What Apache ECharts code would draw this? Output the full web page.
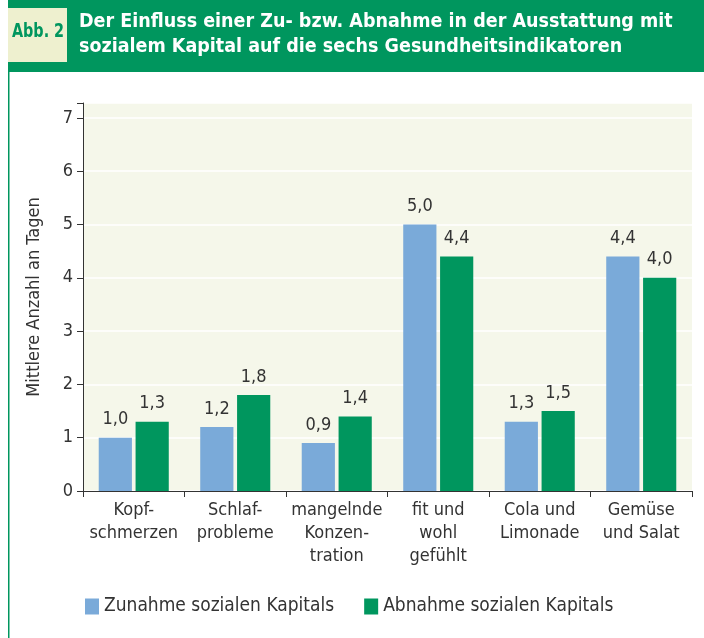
<!DOCTYPE html>
<html>
<head>
<meta charset="utf-8">
<script src="https://cdn.jsdelivr.net/npm/echarts@6/dist/echarts.min.js"></script>
<style>
  html, body { margin: 0; padding: 0; background: #fff; }
  #chart { width: 704px; height: 638px; }
</style>
</head>
<body>
<div id="chart"></div>
<script>
  // Werte aus Abb. 2
  var categories = ['Kopf-\nschmerzen', 'Schlaf-\nprobleme', 'mangelnde\nKonzen-\ntration', 'fit und\nwohl\ngefühlt', 'Cola und\nLimonade', 'Gemüse\nund Salat'];
  var zunahme = [1.0, 1.2, 0.9, 5.0, 1.3, 4.4];
  var abnahme = [1.3, 1.8, 1.4, 4.4, 1.5, 4.0];
  var seriesNames = ['Zunahme sozialen Kapitals', 'Abnahme sozialen Kapitals'];
  var titleLines = ['Der Einfluss einer Zu- bzw. Abnahme in der Ausstattung mit', 'sozialem Kapital auf die sechs Gesundheitsindikatoren'];

  var font = 'DejaVu Sans Condensed';
  var green = '#00965e';
  var blue = '#7aaad9';

  function fmt(p) {
    return p.value.toFixed(1).replace('.', ',');
  }

  var myChart = echarts.init(document.getElementById('chart'));
  myChart.setOption({
    textStyle: { fontFamily: font },
    graphic: [
      { type: 'rect', shape: { x: 8, y: 0, width: 696, height: 72 }, style: { fill: green }, z: 1 },
      { type: 'rect', shape: { x: 8, y: 0, width: 1.5, height: 638 }, style: { fill: green }, z: 1 },
      { type: 'rect', shape: { x: 8, y: 8, width: 59, height: 54 }, style: { fill: '#eef0cf' }, z: 2 },
      // schmalere Schrift im Kasten
      { type: 'text', x: 38, y: 32, scaleX: 0.8, style: { text: 'Abb. 2', fill: green, font: 'bold 20px ' + font, align: 'center', verticalAlign: 'middle' }, z: 3 },
      { type: 'text', x: 79, y: 9, style: { text: titleLines.join('\n'), fill: '#fff', font: 'bold 19.5px ' + font, lineHeight: 25 }, z: 3 }
    ],
    grid: { left: 83, right: 12, top: 103, bottom: 147, show: true, backgroundColor: '#f5f7ea', borderWidth: 0 },
    legend: {
      bottom: 17, left: 80,
      itemWidth: 14, itemHeight: 16, itemGap: 30,
      icon: 'rect',
      textStyle: { fontSize: 19, color: '#333', fontFamily: font },
      data: seriesNames
    },
    xAxis: {
      type: 'category',
      data: categories,
      axisLine: { lineStyle: { color: '#333', width: 1 } },
      axisTick: { show: true, length: 6, lineStyle: { color: '#333' } },
      axisLabel: { color: '#333', fontSize: 18, lineHeight: 23, margin: 8, interval: 0, fontFamily: font }
    },
    yAxis: {
      type: 'value',
      min: 0, max: 7.28, interval: 1,
      name: 'Mittlere Anzahl an Tagen',
      nameLocation: 'middle',
      nameGap: 40,
      nameTextStyle: { color: '#333', fontSize: 18, fontFamily: font },
      axisLine: { show: true, lineStyle: { color: '#333', width: 1 } },
      axisTick: { show: true, length: 6, lineStyle: { color: '#333' } },
      axisLabel: { color: '#333', fontSize: 18, margin: 10, fontFamily: font,
        formatter: function (v) { return v % 1 === 0 ? String(v) : ''; } },
      splitLine: { show: true, lineStyle: { color: '#ffffff', width: 1.5 } }
    },
    series: [
      {
        name: seriesNames[0], type: 'bar', data: zunahme,
        itemStyle: { color: blue },
        barGap: '11%', barCategoryGap: '31%',
        label: { show: true, position: 'top', distance: 9, color: '#333', fontSize: 18, fontFamily: font, formatter: fmt }
      },
      {
        name: seriesNames[1], type: 'bar', data: abnahme,
        itemStyle: { color: green },
        label: { show: true, position: 'top', distance: 9, color: '#333', fontSize: 18, fontFamily: font, formatter: fmt }
      }
    ]
  });
</script>
</body>
</html>
